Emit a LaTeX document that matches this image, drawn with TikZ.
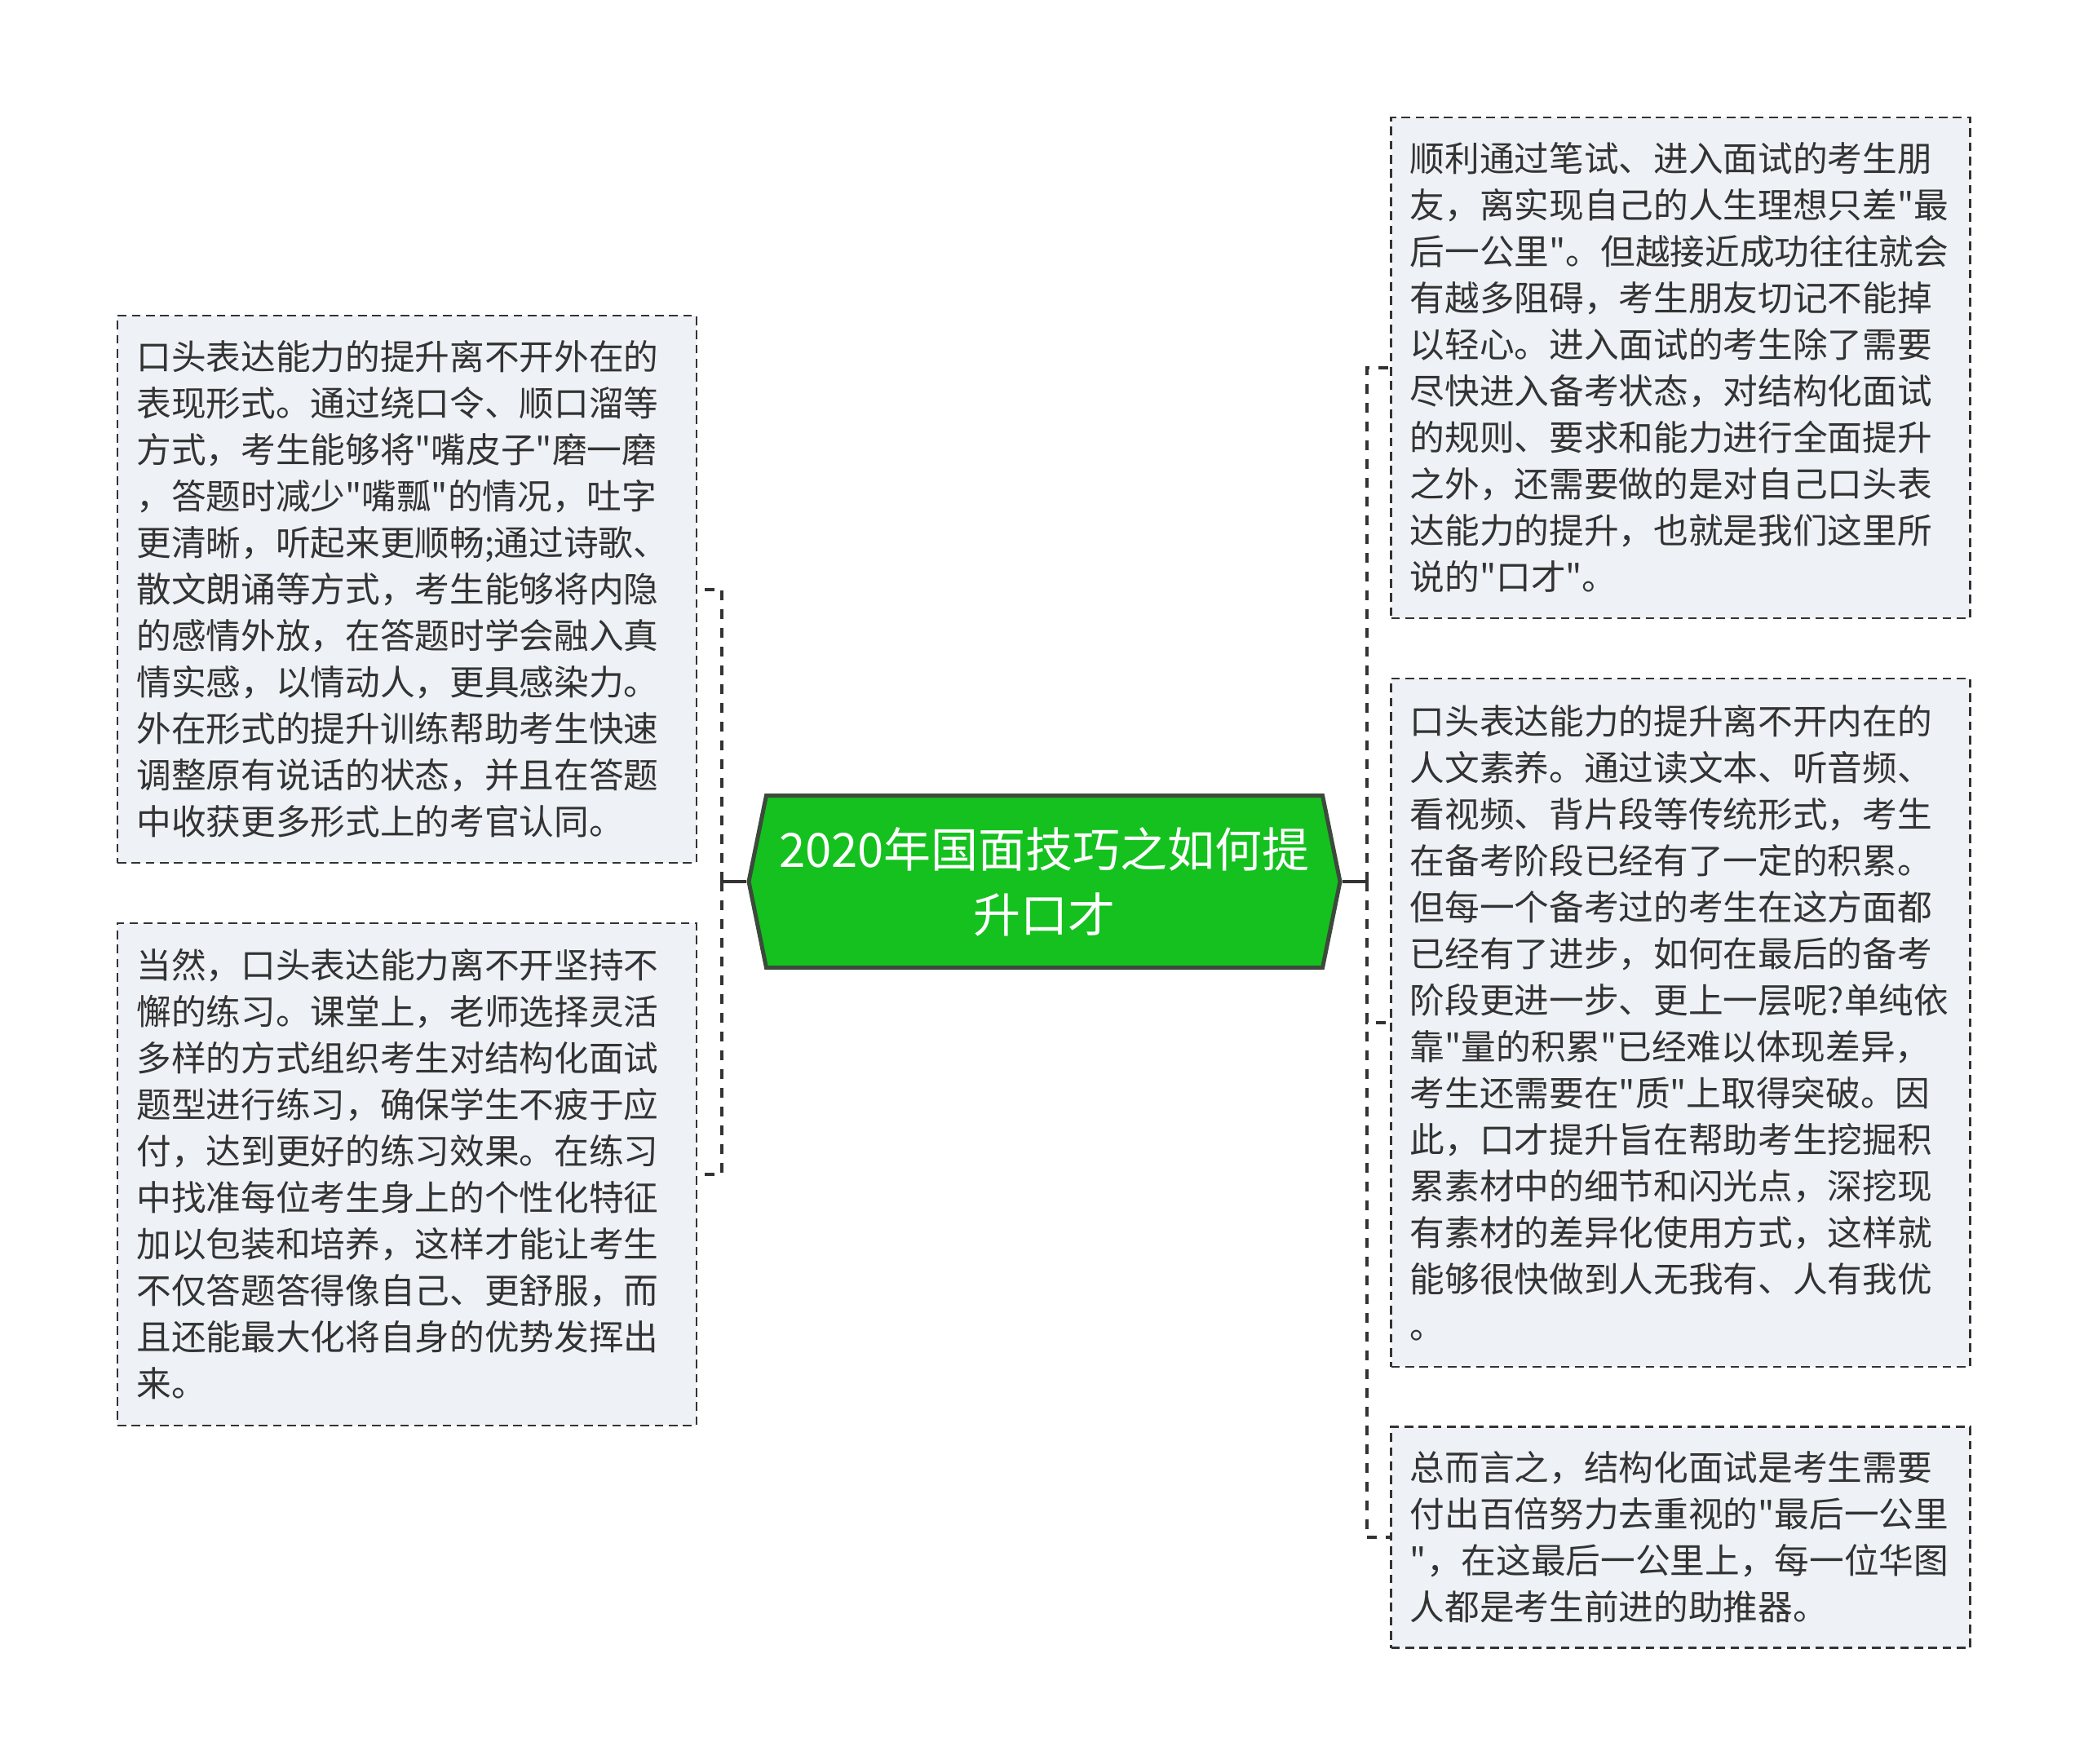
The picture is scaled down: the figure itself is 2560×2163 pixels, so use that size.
\documentclass[tikz,border=0pt]{standalone}
\usepackage{fontspec}
\newfontfamily\cjk{Noto Sans CJK SC}
\usetikzlibrary{positioning,shapes.symbols}
\definecolor{boxfill}{HTML}{EEF1F5}
\definecolor{inkgray}{HTML}{333333}
\definecolor{rootgreen}{HTML}{14C11E}
\definecolor{rootedge}{HTML}{3B4A3B}

\begin{document}
\begin{tikzpicture}[x=0.3pt, y=-0.3pt, node distance=21.4pt,
  root/.style={shape=signal, signal to=west and east, signal pointer angle=157,
    draw=rootedge, line width=1.5pt, fill=rootgreen, text=white, align=center,
    minimum width=217.5pt, minimum height=63.3pt, inner sep=0pt,
    font=\cjk\fontsize{17.4}{24}\selectfont},
  note/.style={draw=inkgray, dash pattern=on 3.2pt off 2pt, line width=0.75pt,
    fill=boxfill, text=inkgray, text width=199pt, inner xsep=7pt, inner ysep=0pt,
    align=left, font=\cjk\fontsize{12.8}{17.1}\selectfont},
  link/.style={draw=inkgray, line width=1.2pt},
  dlink/.style={link, dash pattern=on 3.6pt off 3.3pt}]
\useasboundingbox (0,0) rectangle (2560,2163);

\node[root] (root) at (1280.5,1081) {2020年国面技巧之如何提\\升口才};

% right column
\node[note, minimum height=184.2pt] (r1) at (2060.5,451) {顺利通过笔试、进入面试的考生朋\\友，离实现自己的人生理想只差"最\\后一公里"。但越接近成功往往就会\\有越多阻碍，考生朋友切记不能掉\\以轻心。进入面试的考生除了需要\\尽快进入备考状态，对结构化面试\\的规则、要求和能力进行全面提升\\之外，还需要做的是对自己口头表\\达能力的提升，也就是我们这里所\\说的"口才"。};
\node[note, below=of r1, minimum height=253.2pt] (r2) {口头表达能力的提升离不开内在的\\人文素养。通过读文本、听音频、\\看视频、背片段等传统形式，考生\\在备考阶段已经有了一定的积累。\\但每一个备考过的考生在这方面都\\已经有了进步，如何在最后的备考\\阶段更进一步、更上一层呢?单纯依\\靠"量的积累"已经难以体现差异，\\考生还需要在"质"上取得突破。因\\此，口才提升旨在帮助考生挖掘积\\累素材中的细节和闪光点，深挖现\\有素材的差异化使用方式，这样就\\能够很快做到人无我有、人有我优\\。};
\node[note, below=of r2, minimum height=81.3pt] (r3) {总而言之，结构化面试是考生需要\\付出百倍努力去重视的"最后一公里\\"，在这最后一公里上，每一位华图\\人都是考生前进的助推器。};

% left column
\node[note, minimum height=201.3pt] (l1) at (499,722.5) {口头表达能力的提升离不开外在的\\表现形式。通过绕口令、顺口溜等\\方式，考生能够将"嘴皮子"磨一磨\\，答题时减少"嘴瓢"的情况，吐字\\更清晰，听起来更顺畅;通过诗歌、\\散文朗诵等方式，考生能够将内隐\\的感情外放，在答题时学会融入真\\情实感，以情动人，更具感染力。\\外在形式的提升训练帮助考生快速\\调整原有说话的状态，并且在答题\\中收获更多形式上的考官认同。};
\node[note, below=of l1, minimum height=184.8pt] (l2) {当然，口头表达能力离不开坚持不\\懈的练习。课堂上，老师选择灵活\\多样的方式组织考生对结构化面试\\题型进行练习，确保学生不疲于应\\付，达到更好的练习效果。在练习\\中找准每位考生身上的个性化特征\\加以包装和培养，这样才能让考生\\不仅答题答得像自己、更舒服，而\\且还能最大化将自身的优势发挥出\\来。};

\coordinate[left=9pt of root.west] (lj);
\coordinate[right=9pt of root.east] (rj);
\draw[link] (root.west) -- (lj);
\draw[link] (root.east) -- (rj);
\foreach \n in {l1,l2} \draw[dlink] (lj) |- (\n.east);
\foreach \n in {r1,r2,r3} \draw[dlink] (rj) |- (\n.west);
\end{tikzpicture}
\end{document}
